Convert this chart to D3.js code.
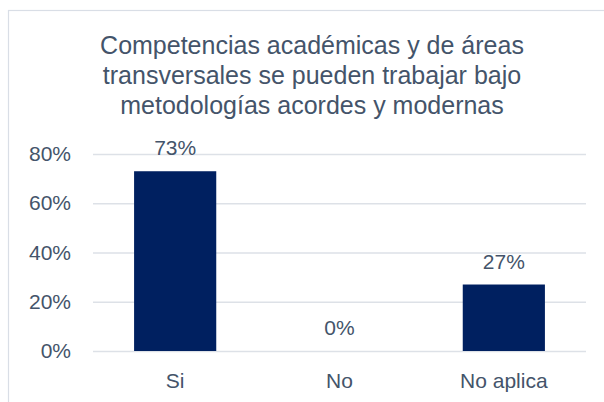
<!DOCTYPE html>
<html>
<head>
<meta charset="utf-8">
<script src="https://cdn.jsdelivr.net/npm/d3@7"></script>
<style>
  body { margin: 0; background: #fff; }
  svg { display: block; }
</style>
</head>
<body>
<svg></svg>
<script>
const categories = ['Si', 'No', 'No aplica'];
const values = [0.73, 0, 0.27];
const yTicks = [0, 0.2, 0.4, 0.6, 0.8];
const titleLines = [
    'Competencias académicas y de áreas',
    'transversales se pueden trabajar bajo',
    'metodologías acordes y modernas'
];

const size = {w: 604, h: 402};
const plot = {l: 93, r: 586, t: 154, b: 351};
const textColor = '#44546A';
const font = 'Liberation Sans, Arial, sans-serif';

const svg = d3.select('svg')
    .attr('width', size.w)
    .attr('height', size.h);

// chart area frame, runs past the right and bottom edge
svg.append('rect')
    .attr('x', 8.5).attr('y', 10.5)
    .attr('width', 620).attr('height', 420)
    .attr('fill', 'none')
    .attr('stroke', '#D9DEE6')
    .attr('stroke-width', 1.2);

const x = d3.scaleBand()
    .domain(categories)
    .range([plot.l, plot.r])
    .paddingInner(0.5)
    .paddingOuter(0.25);

const y = d3.scaleLinear()
    .domain([0, 0.8])
    .range([plot.b, plot.t]);

// title
svg.append('text')
    .attr('text-anchor', 'middle')
    .attr('font-family', font)
    .attr('font-size', 25)
    .attr('fill', textColor)
    .selectAll('tspan')
    .data(titleLines)
    .join('tspan')
    .attr('x', 312)
    .attr('y', (d, i) => 54 + i * 30)
    .text(d => d);

// gridlines + y labels
const yAxis = d3.axisLeft(y)
    .tickValues(yTicks)
    .tickFormat(d3.format('.0%'))
    .tickSize(-(plot.r - plot.l))
    .tickPadding(22);

svg.append('g')
    .attr('transform', `translate(${plot.l},0)`)
    .call(yAxis)
    .call(g => g.select('.domain').remove())
    .call(g => g.selectAll('.tick line').attr('stroke', '#DDE1E7').attr('stroke-width', 1.3))
    .call(g => g.selectAll('.tick text')
        .attr('font-family', font)
        .attr('font-size', 21)
        .attr('fill', textColor));

// bars
svg.append('g')
    .selectAll('rect')
    .data(values)
    .join('rect')
    .attr('x', (d, i) => x(categories[i]))
    .attr('width', x.bandwidth())
    .attr('y', d => y(d))
    .attr('height', d => y(0) - y(d))
    .attr('fill', '#002060');

// value labels
svg.append('g')
    .attr('font-family', font)
    .attr('font-size', 21)
    .attr('fill', textColor)
    .attr('text-anchor', 'middle')
    .selectAll('text')
    .data(values)
    .join('text')
    .attr('x', (d, i) => x(categories[i]) + x.bandwidth() / 2)
    .attr('y', d => y(d) - 16)
    .text(d => d3.format('.0%')(d));

// x labels
const xAxis = d3.axisBottom(x).tickSize(0).tickPadding(22);
svg.append('g')
    .attr('transform', `translate(0,${plot.b})`)
    .call(xAxis)
    .call(g => g.select('.domain').remove())
    .call(g => g.selectAll('.tick text')
        .attr('font-family', font)
        .attr('font-size', 21)
        .attr('fill', textColor));
</script>
</body>
</html>
